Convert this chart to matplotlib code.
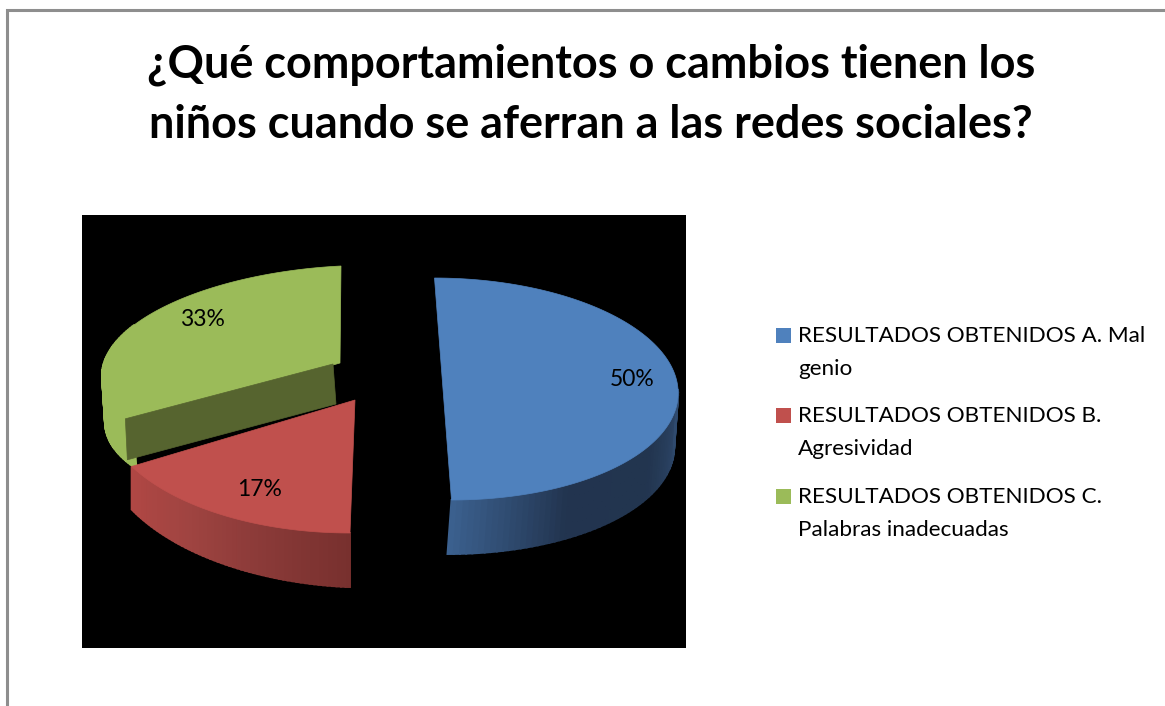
import numpy as np
import matplotlib
matplotlib.use("Agg")
import matplotlib.pyplot as plt
from matplotlib.patches import Polygon, Rectangle
from matplotlib.colors import to_rgb

title_lines = ["¿Qué comportamientos o cambios tienen los",
               "niños cuando se aferran a las redes sociales?"]
categories = ["RESULTADOS OBTENIDOS A. Mal\ngenio",
              "RESULTADOS OBTENIDOS B.\nAgresividad",
              "RESULTADOS OBTENIDOS C.\nPalabras inadecuadas"]
values = [50, 16.67, 33.33]
value_labels = ["50%", "17%", "33%"]
top_colors = ["#4f81bd", "#c0504d", "#9bbb59"]

# geometry of each exploded slice: centre, radii, shear, wall offset, seen wall arc
geometry = [
    dict(c=(443, 389), r=(235, 111), shear=(-8.5, 0.0), wall=(-4, 54, 54), arc=(-90, 0)),
    dict(c=(355, 400), r=(255, 133), shear=(5, 0.0), wall=(0, 54, 43), arc=(-90, -150)),
    dict(c=(340, 363), r=(238, 97), shear=(1, 0.05), wall=(3, 47, 47), arc=(-210, -150)),
]
wall_stops = [
    ["#3b608e", "#22344f", "#22354f", "#2f4a6e"],
    ["#78302e", "#8a3a38", "#a04441", "#b04744"],
    ["#96b455", "#9bbb59", "#9bbb59", "#9bbb59"],
]
label_pos = [(632, 380), (260, 490), (202, 320)]
legend_y = [336, 416, 497]
legend_colors = top_colors

fig = plt.figure(figsize=(11.65, 7.06), dpi=100, facecolor="white")
ax = fig.add_axes([0, 0, 1, 1])
ax.set_xlim(0, 1165)
ax.set_ylim(706, 0)
ax.axis("off")
FONT = "Lato"


def point(g, deg):
    t = np.radians(deg)
    s, c = np.sin(t), np.cos(t)
    x = g["c"][0] + g["r"][0] * c + g["shear"][0] * s
    y = g["c"][1] - g["r"][1] * s - g["shear"][1] * g["r"][0] * c
    return np.array([x, y])


def mix(stops, f):
    rgb = np.array([to_rgb(s) for s in stops])
    pos = np.linspace(0, 1, len(stops))
    return [np.interp(f, pos, rgb[:, i]) for i in range(3)]


ax.plot([6.5, 6.5, 1165], [706, 10, 10], color="#8e8e8e", lw=2.2,
        solid_joinstyle="miter", zorder=1)
ax.add_patch(Rectangle((82, 215), 604, 433, fc="black", ec="none", zorder=2))

edges = 90 - 360 * np.cumsum([0] + values) / np.sum(values)
z = 3
for i in [2, 0, 1]:
    g = geometry[i]
    ts = np.linspace(edges[i], edges[i + 1], 121)
    dx, d0, d1 = g["wall"]
    wall_t = np.linspace(g["arc"][0], g["arc"][1], 60)
    for k in range(len(wall_t) - 1):
        f = k / (len(wall_t) - 2)
        p, q = point(g, wall_t[k]), point(g, wall_t[k + 1])
        dp = d0 + (d1 - d0) * f
        quad = [p, q, q + [dx, dp], p + [dx, dp]]
        col = mix(wall_stops[i], f)
        ax.add_patch(Polygon(quad, fc=col, ec=col, lw=1.4, zorder=z + k * 0.001))
    z += 1
    verts = [g["c"]] + [tuple(point(g, t)) for t in ts]
    ax.add_patch(Polygon(verts, fc=top_colors[i], ec=top_colors[i], lw=0.5, zorder=z))
    z += 1
    if i == 2:
        e = point(g, edges[i])
        apex = np.array(g["c"], float)
        ax.add_patch(Polygon([apex + [-7, 1], e + [-8, -3], e + [-6, 38], apex + [-4, 41]],
                             fc="#56642f", ec="#56642f", lw=0.5, zorder=z))
        z += 1

for lab, (x, y) in zip(value_labels, label_pos):
    ax.text(x, y, lab, ha="center", va="center", fontsize=16.5, family=FONT,
            color="black", zorder=20)

for line, y in zip(title_lines, [78, 138]):
    ax.text(591, y, line, ha="center", va="baseline", fontsize=32.4, family=FONT,
            fontweight="bold", color="black", zorder=20)

for cat, col, y in zip(categories, legend_colors, legend_y):
    ax.add_patch(Rectangle((776, y - 8), 15, 15, fc=col, ec="none", zorder=20))
    l1, l2 = cat.split("\n")
    ax.text(798, y, l1, ha="left", va="center", fontsize=16.2, family=FONT, color="black", zorder=20)
    ax.text(798, y + 33, l2, ha="left", va="center", fontsize=16.2, family=FONT, color="black", zorder=20)

fig.savefig("out.png", dpi=100, facecolor="white")
